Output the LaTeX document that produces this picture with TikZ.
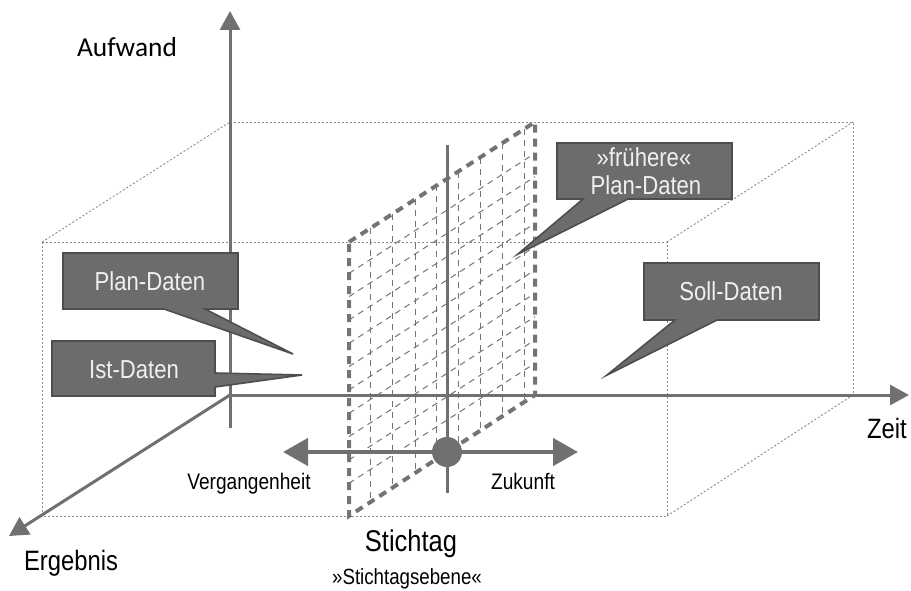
\documentclass[tikz,border=0pt]{standalone}
\usepackage{fontspec}
\setmainfont{Liberation Sans}[FakeStretch=0.85]
\newfontfamily\calibrifont{Carlito}
\usetikzlibrary{arrows.meta,calc}

\definecolor{axisgray}{HTML}{707070}
\definecolor{dotgray}{HTML}{8A8A8A}
\definecolor{planegray}{HTML}{747474}
\definecolor{boxfill}{HTML}{6C6C6C}
\definecolor{boxline}{HTML}{4E4E4E}

\begin{document}
\begin{tikzpicture}[x=1pt,y=-1pt,
  boxedge/.style={draw=dotgray,line width=0.9pt,dash pattern=on 2pt off 2pt},
  axis/.style={draw=axisgray,line width=3pt,-{Triangle[length=19pt,width=20pt]}},
  planeedge/.style={draw=planegray,line width=4pt,dash pattern=on 8pt off 6pt},
  griddash/.style={draw=planegray,line width=1pt,dash pattern=on 6pt off 5pt},
  callout/.style={fill=boxfill,draw=boxline,line width=1.6pt,line join=miter},
  boxtext/.style={font=\fontsize{26}{28}\selectfont,text=white!94!black,inner sep=0pt,anchor=base},
  axislabel/.style={font=\fontsize{28}{32}\selectfont,inner sep=0pt,anchor=base},
  timelabel/.style={font=\fontsize{22.5}{26}\selectfont,inner sep=0pt,anchor=base},
]
\useasboundingbox (0,0) rectangle (911,591);

% --- cuboid of the data space (dotted) ---
\coordinate (O)   at (230,395);
\coordinate (FTL) at (42,242);
\coordinate (FTR) at (667,242);
\coordinate (FBR) at (667,516);
\coordinate (FBL) at (42,516);
\coordinate (BTL) at (230,122);
\coordinate (BTR) at (853,122);
\coordinate (BBR) at (853,395);
\draw[boxedge] (FTL) -- (FTR) -- (FBR) -- (FBL) -- cycle;
\draw[boxedge] (BTL) -- (BTR) -- (BBR);
\draw[boxedge] (FTL) -- (BTL);
\draw[boxedge] (FTR) -- (BTR);
\draw[boxedge] (FBR) -- (BBR);

% --- key-date plane with its grid ---
\coordinate (PFT) at (349,242);
\coordinate (PFB) at (349,516);
\coordinate (PBT) at (535,122);
\coordinate (PBB) at (535,395);
\foreach \gx in {370.7,392.7,415,436.7,458,480,502,524}{
  \pgfmathsetmacro{\gt}{242-(\gx-349)*0.645}
  \pgfmathsetmacro{\gb}{516-(\gx-349)*0.65}
  \draw[griddash] (\gx,\gt) -- (\gx,\gb);
}
\foreach \k in {0,...,9}{
  \pgfmathsetmacro{\gl}{273.3+23.33*\k}
  \pgfmathsetmacro{\gr}{153.3+23.33*\k}
  \draw[griddash] (349,\gl) -- (535,\gr);
}
\draw[planeedge] (PFT) -- (PBT) -- (PBB) -- (PFB) -- cycle;

% --- axes ---
\coordinate (Vbot) at (230,428);
\coordinate (Vtop) at (230,11);
\coordinate (Tend) at (909,395);
\coordinate (Eend) at (9,536);
\draw[axis] (Vbot) -- (Vtop);
\draw[axis] (O) -- (Tend);
\draw[axis] (O) -- (Eend);

% --- key date: vertical marker, past/future arrow, dot ---
\coordinate (Stop) at (447,145);
\coordinate (Sbot) at (447,493);
\coordinate (Pl) at (283,452);
\coordinate (Fr) at (578,452);
\draw[axisgray,line width=3pt] (Stop) -- (Sbot);
\draw[axisgray,line width=4.5pt,{Triangle[length=25pt,width=27pt]}-{Triangle[length=25pt,width=27pt]}] (Pl) -- (Fr);
\fill[axisgray] (447,452) circle (15);

% --- callouts ---
\coordinate (tipPlan)  at (293,354);
\coordinate (tipIst)   at (302,375);
\coordinate (tipFrueh) at (518,254);
\coordinate (tipSoll)  at (607,375);
\filldraw[callout] (63,253) -- (238,253) -- (238,309) -- (205,309) -- (tipPlan) -- (164,309) -- (63,309) -- cycle;
\filldraw[callout] (52,341) -- (215,341) -- (215,373) -- (tipIst) -- (215,387) -- (215,396) -- (52,396) -- cycle;
\filldraw[callout] (557,143) -- (732,143) -- (732,199) -- (628,199) -- (tipFrueh) -- (583,199) -- (557,199) -- cycle;
\filldraw[callout] (644,263) -- (819,263) -- (819,320) -- (717,320) -- (tipSoll) -- (675,320) -- (644,320) -- cycle;

\node[boxtext] (plan)   at (150,290) {Plan-Daten};
\node[boxtext] (ist)    at (134,378) {Ist-Daten};
\node[boxtext] (frueh1) at (644,166.5) {»frühere«};
\node[boxtext] (frueh2) at (646,194) {Plan-Daten};
\node[boxtext] (soll)   at (731,300) {Soll-Daten};

% --- labels ---
\node[font=\calibrifont\fontsize{27.4}{30}\selectfont,inner sep=0pt,anchor=base] (aufwand) at (127,57) {Aufwand};
\node[axislabel] (zeit)     at (887,438) {Zeit};
\node[axislabel] (ergebnis) at (71,570) {Ergebnis};
\node[timelabel] (verg)     at (249,489) {Vergangenheit};
\node[timelabel] (zuk)      at (523,489) {Zukunft};
\node[font=\fontsize{30}{33}\selectfont,inner sep=0pt,anchor=base] (stichtag) at (411,551) {Stichtag};
\node[font=\fontsize{22}{26}\selectfont,inner sep=0pt,anchor=base] (ebene) at (407,584) {»Stichtagsebene«};
\end{tikzpicture}
\end{document}
